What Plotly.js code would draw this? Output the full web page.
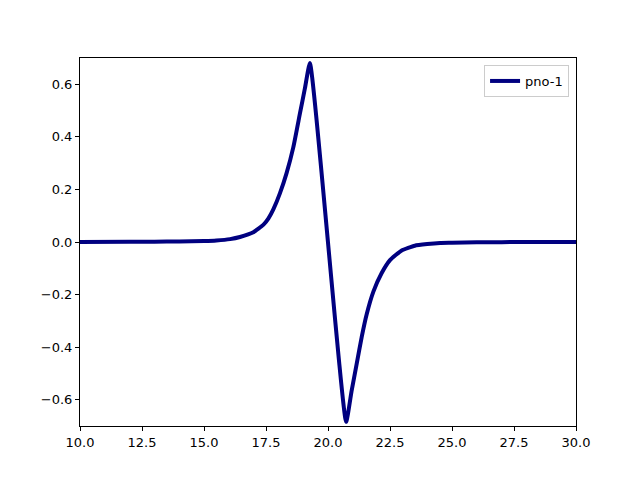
<!DOCTYPE html>
<html>
<head>
<meta charset="utf-8">
<script src="https://cdn.plot.ly/plotly-3.0.1.min.js"></script>
<style>
html,body{margin:0;padding:0;background:#fff;}
#chart{width:640px;height:480px;}
</style>
</head>
<body>
<div id="chart"></div>
<script>
// Values
const xValues = [10, 12, 13, 14, 15, 15.5, 16.05, 16.45, 16.99, 17.39, 17.6, 17.8, 18.06, 18.33, 18.6, 18.87, 19.07, 19.27,
                 20.73, 20.95, 21.16, 21.36, 21.56, 21.83, 22.16, 22.5, 22.97, 23.5, 24.0, 24.52, 25, 26, 27, 28, 30];
const yValues = [0, 0.0005, 0.001, 0.002, 0.004, 0.006, 0.011, 0.019, 0.037, 0.065, 0.09, 0.125, 0.185, 0.262, 0.36, 0.49, 0.585, 0.681,
                 -0.684, -0.567, -0.462, -0.361, -0.275, -0.189, -0.119, -0.069, -0.032, -0.014, -0.008, -0.004, -0.003, -0.001, -0.0005, 0, 0];
const seriesName = "pno-1";
const xTickVals = [10, 12.5, 15, 17.5, 20, 22.5, 25, 27.5, 30];
const yTickVals = [-0.6, -0.4, -0.2, 0, 0.2, 0.4, 0.6];

const trace = {
  x: xValues,
  y: yValues,
  type: 'scatter',
  mode: 'lines',
  name: seriesName,
  line: {color: '#000080', width: 4, shape: 'spline', smoothing: 0.45}
};

const axisCommon = {
  showgrid: false,
  zeroline: false,
  showline: true,
  mirror: true,
  linecolor: '#000000',
  linewidth: 1,
  ticks: 'outside',
  ticklen: 4,
  tickwidth: 1,
  tickcolor: '#000000',
  tickfont: {family: 'DejaVu Sans', size: 13, color: '#000000'},
  tickformat: '.1f'
};

const layout = {
  width: 640,
  height: 480,
  margin: {l: 80, r: 64, t: 58, b: 54},
  paper_bgcolor: '#ffffff',
  plot_bgcolor: '#ffffff',
  showlegend: true,
  xaxis: Object.assign({}, axisCommon, {range: [10, 30], tickvals: xTickVals}),
  yaxis: Object.assign({}, axisCommon, {range: [-0.7, 0.7], tickvals: yTickVals}),
  legend: {
    x: 0.986, y: 0.981, xanchor: 'right', yanchor: 'top',
    bordercolor: '#cccccc', borderwidth: 1, bgcolor: 'rgba(255,255,255,0.8)',
    font: {family: 'DejaVu Sans', size: 13, color: '#000000'}
  }
};

Plotly.newPlot('chart', [trace], layout, {displayModeBar: false, staticPlot: true});
</script>
</body>
</html>
